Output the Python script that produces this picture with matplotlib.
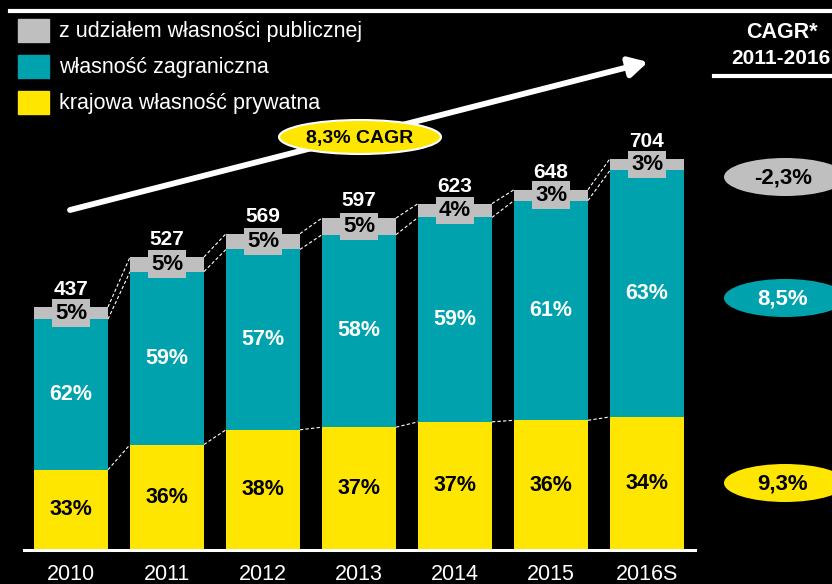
import matplotlib
matplotlib.use('Agg')
import matplotlib.pyplot as plt
from matplotlib.patches import Ellipse, Rectangle
from matplotlib import font_manager
import numpy as np

# data
years = ['2010', '2011', '2012', '2013', '2014', '2015', '2016S']
totals = [437, 527, 569, 597, 623, 648, 704]
pct_private = [33, 36, 38, 37, 37, 36, 34]   # krajowa własność prywatna
pct_foreign = [62, 59, 57, 58, 59, 61, 63]   # własność zagraniczna
pct_public = [5, 5, 5, 5, 4, 3, 3]           # z udziałem własności publicznej
series_names = ['z udziałem własności publicznej', 'własność zagraniczna',
                'krajowa własność prywatna']
cagr_labels = ['-2,3%', '8,5%', '9,3%']
total_cagr = '8,3% CAGR'

GRAY = '#BFBFBF'
TEAL = '#00A3AD'
YELLOW = '#FFE600'

avail = {f.name for f in font_manager.fontManager.ttflist}
base = 'Liberation Sans' if 'Liberation Sans' in avail else 'DejaVu Sans'
plt.rcParams['font.family'] = [base, 'DejaVu Sans']

totals = np.array(totals, dtype=float)
priv = totals * np.array(pct_private) / 100
forg = totals * np.array(pct_foreign) / 100
publ = totals * np.array(pct_public) / 100
x = np.arange(len(years))
w = 0.77

fig = plt.figure(figsize=(8.32, 5.84), dpi=100, facecolor='black')
ax = fig.add_axes([0, 0, 1, 1])
ax.set_facecolor('black')
# 96 px per category, 0.556 px per unit, baseline at 550 px from top
ax.set_xlim(-71 / 96, -71 / 96 + 832 / 96)
ax.set_ylim(-34 / 0.556, (584 - 34) / 0.556)
ax.axis('off')

ax.bar(x, priv, w, color=YELLOW, zorder=2)
ax.bar(x, forg, w, bottom=priv, color=TEAL, zorder=2)
ax.bar(x, publ, w, bottom=priv + forg, color=GRAY, zorder=2)

# dashed connectors between bars
for level in [priv, priv + forg, totals]:
    for i in range(len(x) - 1):
        ax.plot([x[i] + w / 2, x[i + 1] - w / 2], [level[i], level[i + 1]],
                color='white', lw=0.8, ls=(0, (3, 2)), zorder=1)

ax.plot([-0.49, 6.5], [0, 0], color='white', lw=2.2, zorder=3)

for i in range(len(x)):
    ax.text(x[i], priv[i] / 2, f'{pct_private[i]}%', ha='center', va='center',
            fontsize=15.5, fontweight='bold', color='black', zorder=4)
    ax.text(x[i], priv[i] + forg[i] / 2, f'{pct_foreign[i]}%', ha='center',
            va='center', fontsize=15.5, fontweight='bold', color='white',
            zorder=4)
    ax.text(x[i], priv[i] + forg[i] + publ[i] / 2, f'{pct_public[i]}%',
            ha='center', va='center', fontsize=16, fontweight='bold',
            color='black', zorder=5,
            bbox=dict(boxstyle='square,pad=0.15', fc=GRAY, ec='none'))
    ax.annotate(f'{int(totals[i])}', (x[i], totals[i]), xytext=(0, 8.5),
                textcoords='offset points', ha='center', va='baseline',
                fontsize=15, fontweight='bold', color='white', zorder=5)
    ax.text(x[i], -44, years[i], ha='center', va='center', fontsize=15.5,
            color='white')

# overlay in pixel coordinates for decorations
ov = fig.add_axes([0, 0, 1, 1])
ov.set_xlim(0, 832)
ov.set_ylim(584, 0)
ov.axis('off')
ov.patch.set_alpha(0)

ov.plot([10, 832], [10.5, 10.5], color='white', lw=3)
ov.plot([714, 832], [75.5, 75.5], color='white', lw=3)

legend_colors = [GRAY, TEAL, YELLOW]
for k, (name, c) in enumerate(zip(series_names, legend_colors)):
    y0 = 19 + 36 * k
    ov.add_patch(Rectangle((18, y0), 31, 23, color=c))
    ov.text(59, y0 + 12.5, name, ha='left', va='center', fontsize=15.5,
            color='white')

ov.annotate('', xy=(648, 62), xytext=(70, 210),
            arrowprops=dict(arrowstyle='-|>,head_length=1.1,head_width=0.6',
                            color='white', lw=4.2, shrinkA=0, shrinkB=0))
ov.add_patch(Ellipse((360, 137), 162, 34, fc=YELLOW, ec='white', lw=1.5,
                     zorder=5))
ov.text(360, 138, total_cagr, ha='center', va='center', fontsize=14,
        fontweight='bold', color='black', zorder=6)

ov.text(782, 32, 'CAGR*', ha='center', va='center', fontsize=15.5,
        fontweight='bold', color='white')
ov.text(781, 58, '2011-2016', ha='center', va='center', fontsize=15,
        fontweight='bold', color='white')

ell_y = [177, 298, 483]
ell_fc = [GRAY, TEAL, YELLOW]
ell_tc = ['black', 'white', 'black']
for lab, yy, fc, tc in zip(cagr_labels, ell_y, ell_fc, ell_tc):
    ov.add_patch(Ellipse((785, yy), 122, 38, fc=fc, ec='none'))
    ov.text(783, yy + 1, lab, ha='center', va='center', fontsize=16,
            fontweight='bold', color=tc)

fig.savefig('out.png', dpi=100, facecolor='black')
